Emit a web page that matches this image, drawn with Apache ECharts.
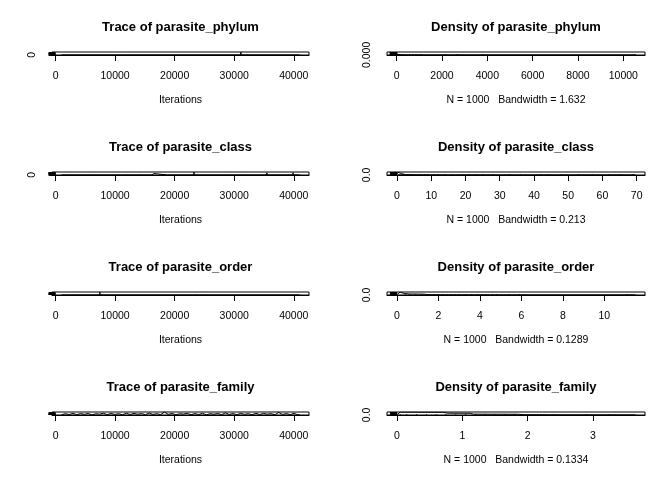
<!DOCTYPE html>
<html>
<head>
<meta charset="utf-8">
<script src="https://cdn.jsdelivr.net/npm/echarts@6/dist/echarts.min.js"></script>
<style>html,body{margin:0;padding:0;background:#fff}#c{width:672px;height:480px}</style>
</head>
<body>
<div id="c"></div>
<script>
// ---------------- data ----------------
var params = ['parasite_phylum', 'parasite_class', 'parasite_order', 'parasite_family'];
var bandwidths = ['1.632', '0.213', '0.1289', '0.1334'];
var nSamples = 1000;

// trace samples (iteration, value)
var traceIterPhylum = [1001, 9761, 9801, 9841, 12121, 12161, 12201, 31081, 31121, 31161, 31441, 31481, 31521, 40961];
var traceValPhylum  = [0, 0, 2660, 0, 0, 3810, 0, 0, 10530, 0, 0, 2140, 0, 0];

var traceIterClass = [1001, 1201, 1241, 1281, 3041, 3081, 3121, 4561, 4601, 4641, 6921, 6961, 7001, 8601, 8641, 8681,
  9441, 9481, 9521, 10921, 10961, 11001, 11281, 11321, 11361, 12441, 12481, 12521, 13801, 13841, 13881,
  14801, 14841, 14881, 16161, 16201, 16241, 16481, 16521, 16561, 18641, 18681, 18721, 21361, 21401, 21441,
  22001, 22041, 22081, 23201, 23241, 23281, 24201, 24241, 24281, 24721, 24761, 24801, 25561, 25601, 25641,
  26881, 26921, 26961, 28241, 28281, 28321, 29761, 29801, 29841, 32601, 32641, 32681, 34801, 34841, 34881,
  35441, 35481, 35521, 35961, 36001, 36041, 39841, 39881, 39921, 40681, 40721, 40761, 40961];
var traceValClass = [0.5, 0.5, 12, 0.5, 0.5, 8, 0.5, 0.5, 23, 0.5, 0.5, 5, 0.5, 0.5, 16, 0.5,
  0.5, 11, 0.5, 0.5, 28, 0.5, 0.5, 9, 0.5, 0.5, 19, 0.5, 0.5, 14, 0.5,
  0.5, 6, 0.5, 0.5, 25, 0.5, 0.5, 33, 0.5, 0.5, 7, 0.5, 0.5, 12, 0.5,
  0.5, 36, 0.5, 0.5, 69, 0.5, 0.5, 10, 0.5, 0.5, 42, 0.5, 0.5, 8, 0.5,
  0.5, 19, 0.5, 0.5, 44, 0.5, 0.5, 14, 0.5, 0.5, 48, 0.5, 0.5, 9, 0.5,
  0.5, 53, 0.5, 0.5, 21, 0.5, 0.5, 57, 0.5, 0.5, 16, 0.5, 0.5];

var traceIterOrder = [1001, 1201, 1241, 1281, 2721, 2761, 2801, 4081, 4121, 4161, 5241, 5281, 5321, 6561, 6601, 6641,
  7401, 7441, 7481, 8601, 8641, 8681, 9441, 9481, 9521, 10441, 10481, 10521, 11441, 11481, 11521,
  12801, 12841, 12881, 13641, 13681, 13721, 14641, 14681, 14721, 15801, 15841, 15881, 16641, 16681, 16721,
  17481, 17521, 17561, 18681, 18721, 18761, 19681, 19721, 19761, 20841, 20881, 20921, 22041, 22081, 22121,
  23041, 23081, 23121, 24201, 24241, 24281, 25401, 25441, 25481, 26401, 26441, 26481, 27241, 27281, 27321,
  29241, 29281, 29321, 30401, 30441, 30481, 31761, 31801, 31841, 33121, 33161, 33201, 34801, 34841, 34881,
  35961, 36001, 36041, 37121, 37161, 37201, 38161, 38201, 38241, 39641, 39681, 39721, 40961];
var traceValOrder = [0.5, 0.5, 3.1, 0.5, 0.5, 4.0, 0.5, 0.5, 2.6, 0.5, 0.5, 3.6, 0.5, 0.5, 4.5, 0.5,
  0.5, 11.1, 0.5, 0.5, 3.3, 0.5, 0.5, 4.1, 0.5, 0.5, 2.9, 0.5, 0.5, 3.8, 0.5,
  0.5, 5.2, 0.5, 0.5, 3.0, 0.5, 0.5, 4.4, 0.5, 0.5, 3.5, 0.5, 0.5, 2.8, 0.5,
  0.5, 4.8, 0.5, 0.5, 3.2, 0.5, 0.5, 3.9, 0.5, 0.5, 6.1, 0.5, 0.5, 3.4, 0.5,
  0.5, 4.2, 0.5, 0.5, 2.7, 0.5, 0.5, 3.7, 0.5, 0.5, 5.9, 0.5, 0.5, 3.1, 0.5,
  0.5, 4.3, 0.5, 0.5, 3.6, 0.5, 0.5, 2.9, 0.5, 0.5, 4.6, 0.5, 0.5, 3.3, 0.5,
  0.5, 3.8, 0.5, 0.5, 4.1, 0.5, 0.5, 3.0, 0.5, 0.5, 3.5, 0.5, 0.5];

var traceIterFamily = [1001, 1641, 2281, 2921, 3561, 4201, 4841, 5481, 6121, 6761, 7401, 8041, 8681, 9321, 9961, 10601,
  11241, 11881, 12521, 13161, 13801, 14441, 15081, 15721, 16361, 17001, 17641, 18281, 18921, 19561, 20201,
  20841, 21481, 22121, 22761, 23401, 24041, 24681, 25321, 25961, 26601, 27241, 27881, 28521, 29161, 29801,
  30441, 31081, 31721, 32361, 33001, 33641, 34281, 34921, 35561, 36201, 36841, 37481, 38121, 38761, 39401,
  40041, 40681, 40961];
var traceValFamily = [0.4, 1.6, 0.7, 1.9, 0.5, 1.7, 0.9, 1.8, 0.3, 1.5, 1.1, 2.0, 0.6, 1.8, 0.8, 1.6,
  0.4, 2.1, 0.7, 1.9, 1.0, 1.7, 0.5, 2.2, 0.8, 1.6, 0.6, 3.25, 0.9, 1.8, 0.4,
  1.5, 1.2, 1.9, 0.5, 1.7, 0.7, 2.0, 0.3, 1.6, 1.0, 1.8, 0.6, 2.4, 0.8, 1.7,
  0.5, 1.9, 0.9, 1.6, 0.4, 2.0, 0.7, 1.8, 1.1, 1.6, 0.5, 2.9, 0.8, 1.7, 0.6,
  1.9, 0.4, 0.7];

// density curves (x, density)
var densXPhylum = [-5, 0, 5, 20, 60, 150, 400, 1100, 1200, 10535];
var densYPhylum = [0, 0.025, 0.012, 0.006, 0.003, 0.001, 0.0004, 0.0001, 0, 0];
var densXClass = [-0.14, 0.25, 0.7, 1.4, 2.5, 5, 15, 69.64];
var densYClass = [0, 1.1, 0.8, 0.45, 0.12, 0.03, 0.005, 0];
var densXOrder = [-0.02, 0.15, 0.35, 0.6, 1.3, 1.5, 2.5, 4.5, 11.5];
var densYOrder = [0, 2.6, 1.3, 0.85, 0.7, 0.2, 0.05, 0.02, 0];
var densXFamily = [-0.007, 0.05, 0.7, 0.78, 1.12, 1.17, 1.85, 1.95, 2.5, 3.65];
var densYFamily = [0, 1.3, 1.2, 0.8, 0.75, 0.35, 0.3, 0.06, 0.02, 0];

// observation marks under the density curves
var obsPhylum = [0, 3, 8, 15, 30, 55, 90, 140, 210, 300, 420, 560, 700, 850, 1000, 1100, 2140, 2660, 3810, 10530];
var obsClass = [0.5, 0.8, 1.2, 1.6, 2.1, 2.7, 3.3, 4.0, 4.8, 5.5, 6.3, 7.0, 8.0, 9.0, 11, 12, 14, 16, 19, 21, 23, 25, 28, 33, 36, 42, 44, 48, 53, 57, 62, 65, 69];
var obsOrder = [0.4, 0.6, 0.9, 1.2, 1.5, 1.8, 2.0, 2.2, 2.4, 2.6, 2.8, 3.0, 3.3, 3.6, 3.9, 4.1, 4.3, 4.6, 4.8, 5.4, 5.9, 6.1, 11.1];
var obsFamily = [0.05, 0.15, 0.3, 0.45, 0.6, 0.75, 0.9, 1.05, 1.2, 1.35, 1.5, 1.65, 1.8, 1.9, 2.05, 2.1, 2.15, 2.2, 2.25, 2.4, 2.9, 3.25];

// tick values and labels
var traceXTicks = [0, 10000, 20000, 30000, 40000];
var traceYTicks = [[0, 2000, 4000, 6000, 8000, 10000], [0, 10, 20, 30, 40, 50, 60, 70], [0, 2, 4, 6, 8, 10], [0, 0.5, 1, 1.5, 2, 2.5, 3]];
var traceYLabel = ['0', '0', '0', '0.0'];
var densXTicks = [[0, 2000, 4000, 6000, 8000, 10000], [0, 10, 20, 30, 40, 50, 60, 70], [0, 2, 4, 6, 8, 10], [0, 1, 2, 3]];
var densYTicks = [[0, 0.005, 0.01, 0.015, 0.02, 0.025], [0, 0.2, 0.4, 0.6, 0.8, 1.0], [0, 0.5, 1, 1.5, 2, 2.5], [0, 0.2, 0.4, 0.6, 0.8, 1.0, 1.2]];
var densYLabel = ['0.000', '0.0', '0.0', '0.0'];

// ---------------- build ----------------
var traceIters = [traceIterPhylum, traceIterClass, traceIterOrder, traceIterFamily];
var traceVals = [traceValPhylum, traceValClass, traceValOrder, traceValFamily];
var densXs = [densXPhylum, densXClass, densXOrder, densXFamily];
var densYs = [densYPhylum, densYClass, densYOrder, densYFamily];
var obs = [obsPhylum, obsClass, obsOrder, obsFamily];

function zip(a, b) { return a.map(function (v, i) { return [v, b[i]]; }); }
function rng(arr) { return [Math.min.apply(null, arr), Math.max.apply(null, arr)]; }
function pad(r) { var d = r[1] - r[0]; return [r[0] - 0.04 * d, r[1] + 0.04 * d]; }

var FONT = '"Liberation Sans", Arial, sans-serif';
var LBL = 10.5;
var colLeft = [52, 387], colWidth = [257, 258];
var grids = [], xAxes = [], yAxes = [], series = [], titles = [];

function addPanel(col, row, title, xr, yr, xticks, yticks, ylabel, xname, lineData, obsData) {
  var idx = grids.length;
  var top = 52 + 120 * row;
  grids.push({ left: colLeft[col], top: top, width: colWidth[col], height: 3, show: true,
    borderColor: '#000', borderWidth: 1, backgroundColor: 'transparent' });
  titles.push({ text: title, left: colLeft[col] + colWidth[col] / 2, top: 21 + 120 * row, textAlign: 'center', padding: 0,
    textStyle: { fontFamily: FONT, fontSize: 13, fontWeight: 'bold', color: '#000' } });
  xAxes.push({ gridIndex: idx, type: 'value', min: xr[0], max: xr[1],
    axisLine: { show: true, onZero: false, lineStyle: { color: '#000', width: 1 } },
    axisTick: { show: true, length: 6, customValues: xticks, lineStyle: { color: '#000' } },
    axisLabel: { customValues: xticks, formatter: function (v) { return String(v); }, color: '#000', fontFamily: FONT, fontSize: LBL, margin: 16 },
    splitLine: { show: false },
    name: xname, nameLocation: 'middle', nameGap: 40,
    nameTextStyle: { fontFamily: FONT, fontSize: LBL, color: '#000' } });
  yAxes.push({ gridIndex: idx, type: 'value', min: yr[0], max: yr[1],
    axisLine: { show: false },
    axisTick: { show: true, length: 7, customValues: yticks, lineStyle: { color: '#000' } },
    axisLabel: { customValues: [0], formatter: function () { return ylabel; }, rotate: 90, color: '#000', fontFamily: FONT, fontSize: LBL, margin: 14 },
    splitLine: { show: false } });
  series.push({ type: 'line', xAxisIndex: idx, yAxisIndex: idx, data: lineData, showSymbol: false, symbol: 'none',
    lineStyle: { color: '#000', width: 1 }, animation: false, silent: true });
  if (obsData) {
    series.push({ type: 'scatter', xAxisIndex: idx, yAxisIndex: idx, data: obsData, symbol: 'rect', symbolSize: [1, 2],
      itemStyle: { color: '#000' }, animation: false, silent: true });
  }
}

for (var r = 0; r < 4; r++) {
  var tx = pad(rng(traceIters[r]));
  var ty = pad(rng(traceVals[r]));
  addPanel(0, r, 'Trace of ' + params[r], tx, ty, traceXTicks, traceYTicks[r], traceYLabel[r], 'Iterations',
    zip(traceIters[r], traceVals[r]), null);
  var dx = pad(rng(densXs[r]));
  var dy = pad(rng(densYs[r]));
  addPanel(1, r, 'Density of ' + params[r], dx, dy, densXTicks[r], densYTicks[r], densYLabel[r],
    'N = ' + nSamples + '   Bandwidth = ' + bandwidths[r],
    zip(densXs[r], densYs[r]), obs[r].map(function (v) { return [v, 0]; }));
}

var chart = echarts.init(document.getElementById('c'), null, { renderer: 'canvas' });
chart.setOption({ animation: false, backgroundColor: '#fff', title: titles, grid: grids, xAxis: xAxes, yAxis: yAxes, series: series });
</script>
</body>
</html>
